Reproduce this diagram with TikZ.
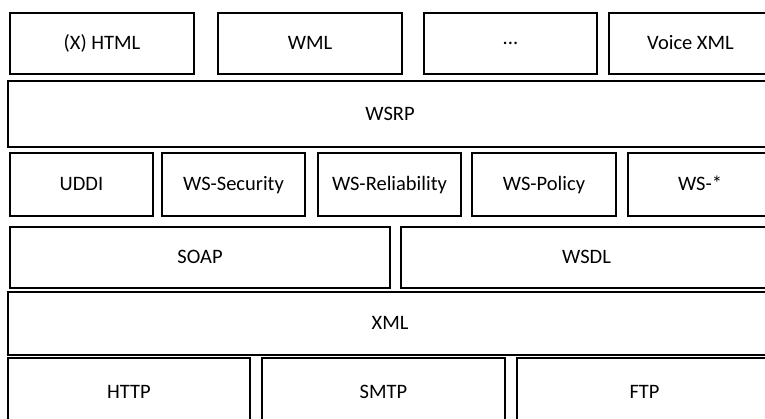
\documentclass[tikz,border=0pt]{standalone}
\usepackage{fontspec}
\setmainfont{Carlito}
\begin{document}
\begin{tikzpicture}[x=1pt,y=-1pt,
  layer/.style={draw=black, line width=1.3pt, inner sep=0pt, text height=15pt, text depth=2pt, font=\fontsize{20.5}{23}\selectfont}]
\useasboundingbox (0,0) rectangle (765,419);
\begin{scope}
\clip (0,0) rectangle (765,419);
% row 1
\node[layer, minimum width=184pt, minimum height=61pt] (html) at (102,43.5) {(X) HTML};
\node[layer, minimum width=184pt, minimum height=61pt] (wml) at (310,43.5) {WML};
\node[layer, minimum width=173pt, minimum height=61pt, text height=, text depth=] (dots) at (510.5,43.5) {...};
\node[layer, minimum width=163pt, minimum height=61pt] (voice) at (690.5,43.5) {Voice XML};
% row 2
\node[layer, minimum width=764pt, minimum height=66pt] (wsrp) at (390,114) {WSRP};
% row 3
\node[layer, minimum width=143pt, minimum height=63pt] (uddi) at (81.5,184.5) {UDDI};
\node[layer, minimum width=143pt, minimum height=63pt] (sec) at (233.5,184.5) {WS-Security};
\node[layer, minimum width=143pt, minimum height=63pt] (rel) at (389.5,184.5) {WS-Reliability};
\node[layer, minimum width=144pt, minimum height=63pt] (pol) at (544,184.5) {WS-Policy};
\node[layer, minimum width=144pt, minimum height=63pt] (star) at (700,184.5) {WS-*};
% row 4
\node[layer, minimum width=380pt, minimum height=61pt] (soap) at (200,257.5) {SOAP};
\node[layer, minimum width=371pt, minimum height=61pt] (wsdl) at (586.5,257.5) {WSDL};
% row 5
\node[layer, minimum width=764pt, minimum height=63pt] (xml) at (390,323.5) {XML};
% row 6
\node[layer, minimum width=242pt, minimum height=67pt] (http) at (129,391.5) {HTTP};
\node[layer, minimum width=243pt, minimum height=67pt] (smtp) at (383.5,391.5) {SMTP};
\node[layer, minimum width=255pt, minimum height=67pt] (ftp) at (644.5,391.5) {FTP};
\end{scope}
\end{tikzpicture}
\end{document}
